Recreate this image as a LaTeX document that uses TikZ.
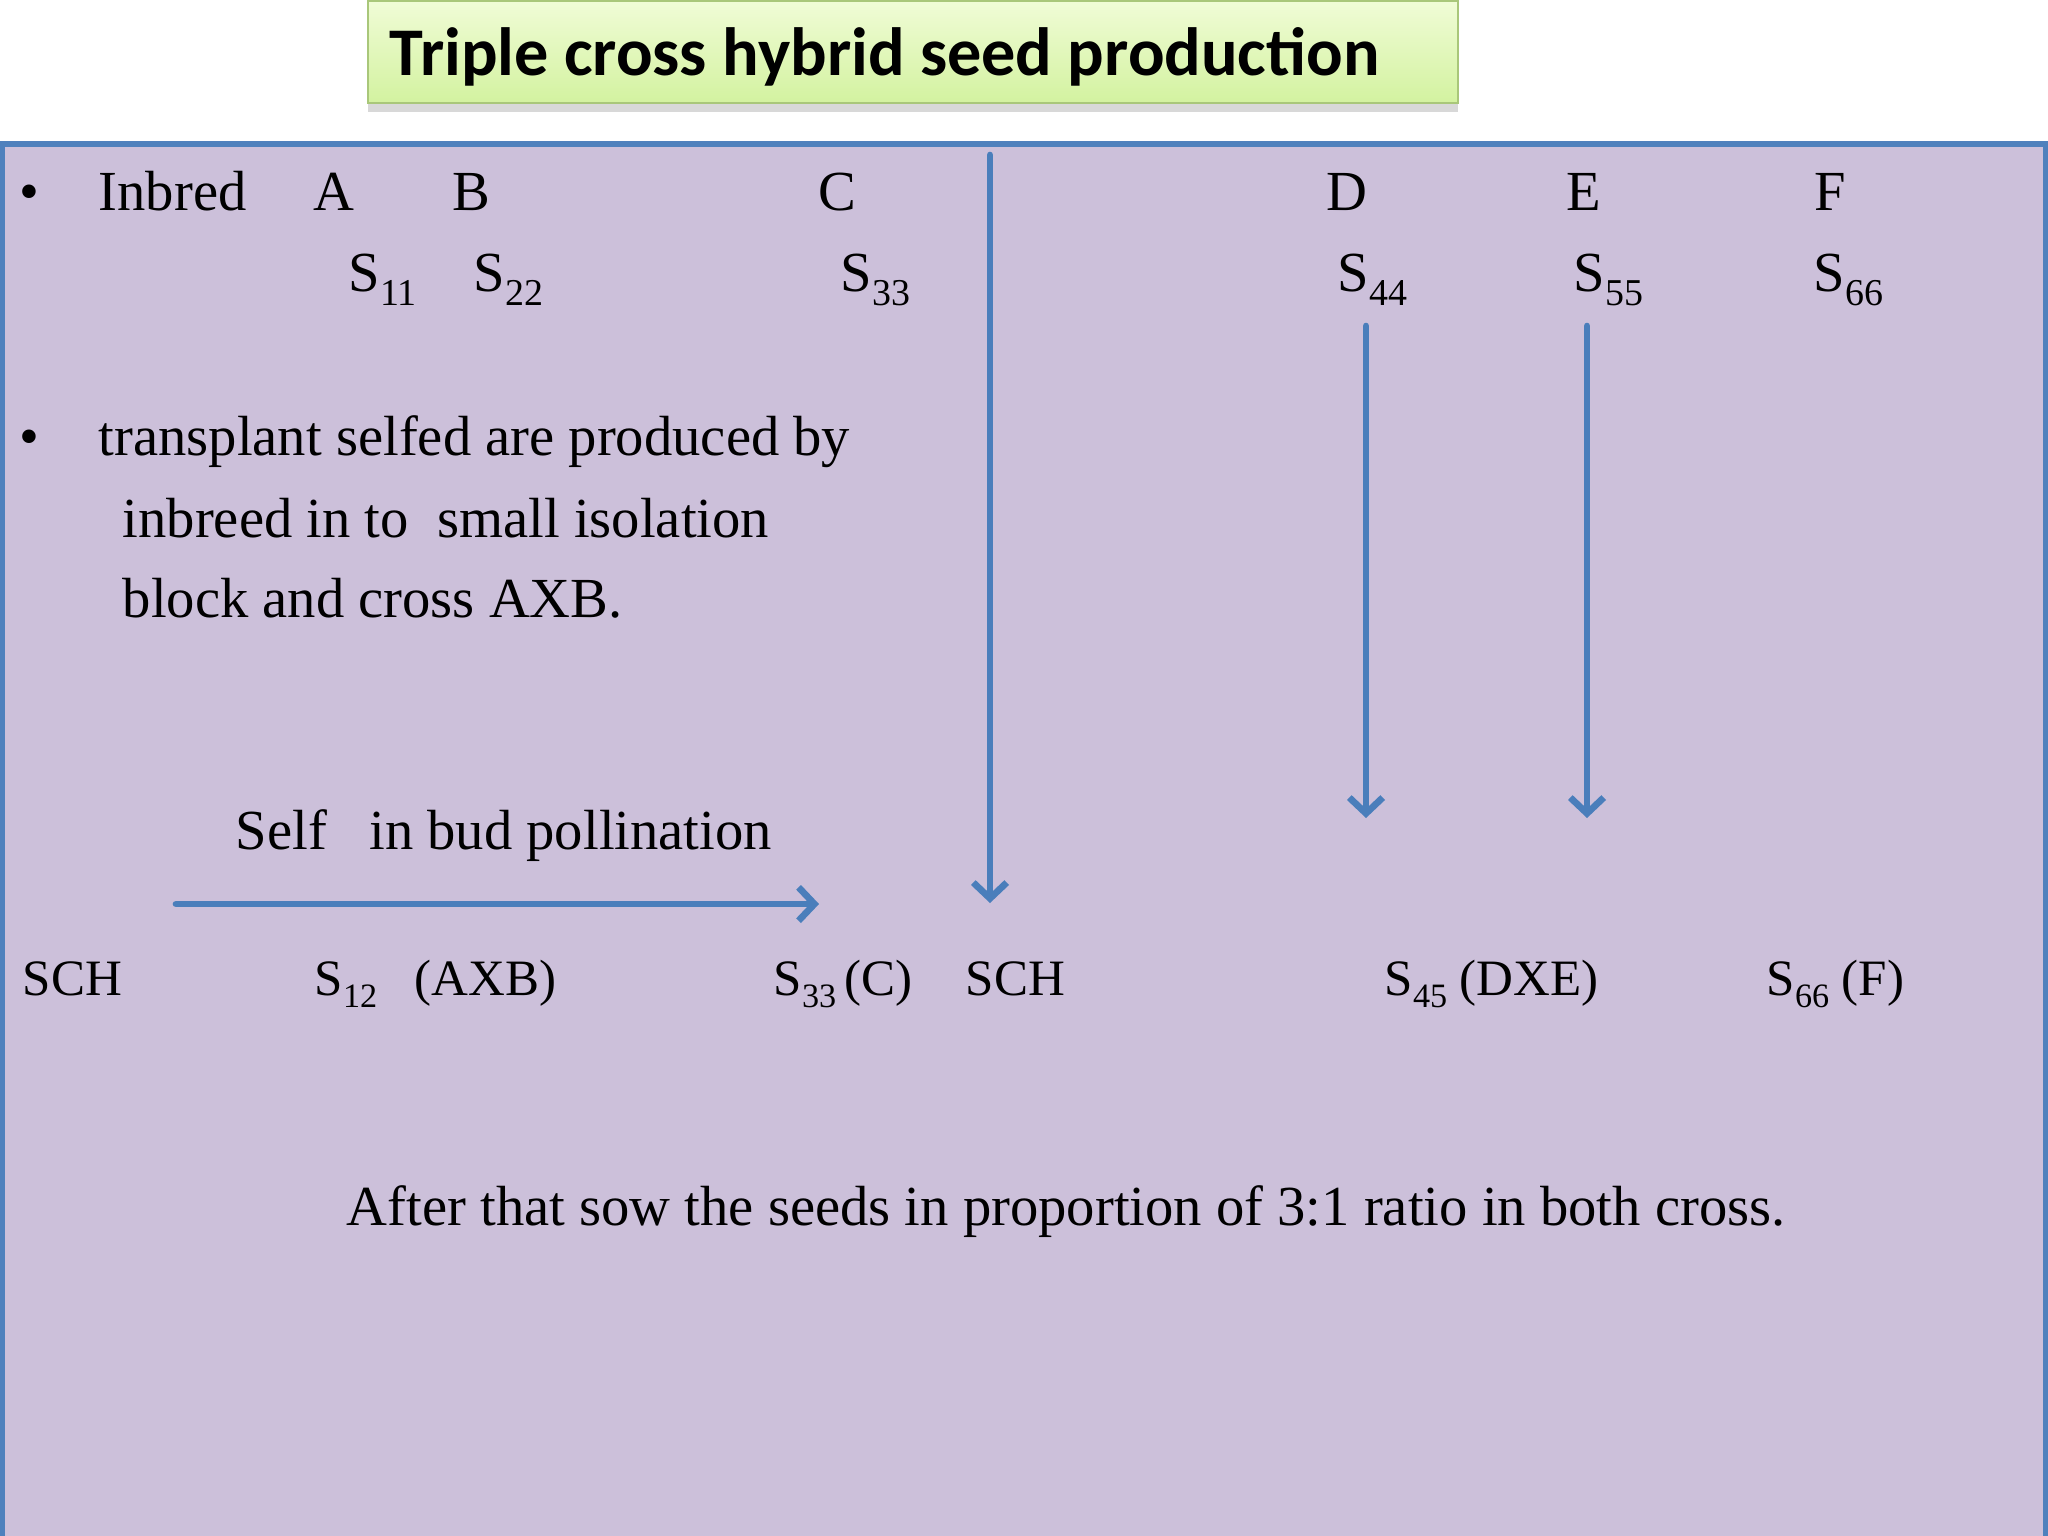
\documentclass[tikz,border=0pt]{standalone}
\usepackage{fontspec}
\setmainfont{Liberation Serif}
\newfontfamily\titlefont{Carlito}
\usetikzlibrary{arrows.meta,shadows}
\definecolor{panelfill}{HTML}{CCC0DA}
\definecolor{panelline}{HTML}{4F81BD}
\definecolor{arrowblue}{HTML}{4A7EBB}
\definecolor{titletop}{HTML}{F0FCD6}
\definecolor{titlebot}{HTML}{D3F2A0}
\definecolor{titleline}{HTML}{A9C77A}
\newcommand\subnum[1]{\raisebox{-0.25em}{\scalebox{0.67}{#1}}}

\begin{document}
\begin{tikzpicture}[x=0.01cm,y=-0.01cm,
    txt/.style={anchor=base west,inner sep=0pt,font=\fontsize{16.1}{19.3}\selectfont},
    small/.style={txt,font=\fontsize{14.5}{17.4}\selectfont},
    arr/.style={draw=arrowblue,line width=1.9pt,line cap=round,
      -{Straight Barb[length=4.5pt,width=9.5pt,line width=1.9pt]}}]
    \useasboundingbox (0,0) rectangle (2048,1536);
    \fill[white] (0,0) rectangle (2048,1536);
    % panel
    \draw[panelline,fill=panelfill,line width=1.5pt] (2,144) rectangle (2046,1560);
    % title
    \draw[titleline,top color=titletop,bottom color=titlebot,
      drop shadow={shadow xshift=0pt,shadow yshift=-2.5pt,opacity=0.3}] (368,1) rectangle (1458,103);
    \node[anchor=base west,inner sep=0pt,font=\titlefont\bfseries\fontsize{19.4}{23}\selectfont]
      (title) at (389,75) {Triple cross hybrid seed production};

    \node[txt] (dot1) at (19,210) {•};
    \node[txt] (inbred) at (98,210) {Inbred};
    \foreach \l/\x in {A/313,B/452,C/818,D/1326,E/1566,F/1814}
        \node[txt] (\l) at (\x,210) {\l};
    \foreach \n/\x in {11/348,22/473,33/840,44/1337,55/1573,66/1813}
        \node[txt] (s\n) at (\x,291) {S\subnum{\n}};

    \node[txt] (dot2) at (19,455) {•};
    \node[txt] (line1) at (98,455) {transplant selfed are produced by};
    \node[txt] (line2) at (122,537) {inbreed in to\ \ small isolation};
    \node[txt] (line3) at (122,617) {block and cross AXB.};
    \node[txt] (self) at (235,849) {Self\ \ \ in bud pollination};

    \node[small] (sch1) at (22,995) {SCH};
    \node[small] (s12) at (314,995) {S\subnum{12}};
    \node[small] (axb) at (414,995) {(AXB)};
    \node[small] (s33c) at (773,995) {S\subnum{33}\,(C)};
    \node[small] (sch2) at (965,995) {SCH};
    \node[small] (s45) at (1384,995) {S\subnum{45} (DXE)};
    \node[small] (s66) at (1766,995) {S\subnum{66} (F)};

    \node[txt] (after) at (346,1225) {After that sow the seeds in proportion of 3:1 ratio in both cross.};

    % arrows
    \coordinate (selfL) at (176,904);
    \coordinate (selfR) at (819,904);
    \coordinate (cTop) at (990,155);
    \coordinate (cEnd) at (990,903);
    \coordinate (dTop) at (1366,326);
    \coordinate (dEnd) at (1366,818);
    \coordinate (eTop) at (1587,326);
    \coordinate (eEnd) at (1587,818);
    \draw[arr] (selfL) -- (selfR);
    \draw[arr] (cTop) -- (cEnd);
    \draw[arr] (dTop) -- (dEnd);
    \draw[arr] (eTop) -- (eEnd);
\end{tikzpicture}
\end{document}
